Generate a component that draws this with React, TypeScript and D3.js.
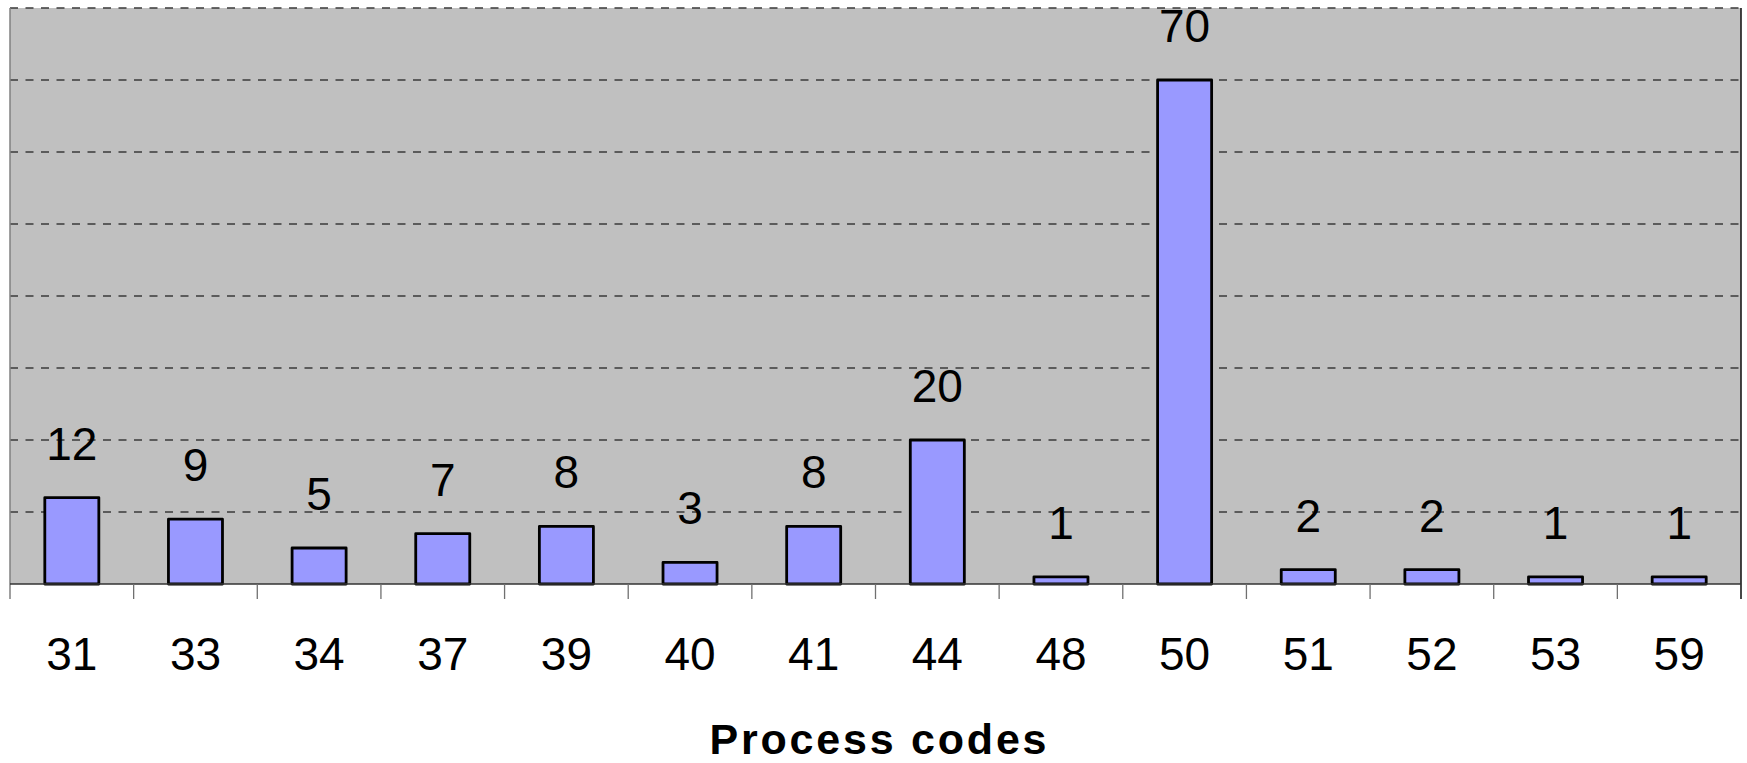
import React from "react";
import * as d3 from "d3";

// Count of records per process code
const categories: string[] = ["31", "33", "34", "37", "39", "40", "41", "44", "48", "50", "51", "52", "53", "59"];
const counts: number[] = [12, 9, 5, 7, 8, 3, 8, 20, 1, 70, 2, 2, 1, 1];
const yTicks: number[] = [0, 10, 20, 30, 40, 50, 60, 70, 80];
const xTitle = "Process codes";

const W = 1747;
const H = 763;
const plot = { left: 10, right: 1741, top: 8, bottom: 584 };
const FONT = "'Liberation Sans', Arial, sans-serif";

export default function App() {
  const x = d3
    .scaleBand<string>()
    .domain(categories)
    .range([plot.left, plot.right])
    .paddingInner(0.563)
    .paddingOuter(0.2815);

  const y = d3.scaleLinear().domain([0, 80]).range([plot.bottom, plot.top]);

  const step = x.step();
  const boundaries = d3.range(categories.length + 1).map((i) => plot.left + i * step);

  return (
    <svg
      width={W}
      height={H}
      viewBox={`0 0 ${W} ${H}`}
      style={{ position: "absolute", left: 0, top: 0, background: "#ffffff" }}
    >
      {/* plot background */}
      <rect
        x={plot.left}
        y={plot.top}
        width={plot.right - plot.left}
        height={plot.bottom - plot.top}
        fill="#c0c0c0"
      />

      {/* dashed gridlines */}
      {yTicks
        .filter((t) => t > 0)
        .map((t) => (
          <line
            key={`g${t}`}
            x1={plot.left}
            x2={plot.right}
            y1={y(t)}
            y2={y(t)}
            stroke="#3a3a3a"
            strokeWidth={1.4}
            strokeDasharray="8 7.5"
          />
        ))}

      {/* plot frame: left and right sides */}
      <line x1={plot.left} x2={plot.left} y1={plot.top} y2={plot.bottom + 15} stroke="#808080" strokeWidth={1.5} />
      <line x1={plot.right} x2={plot.right} y1={plot.top} y2={plot.bottom + 15} stroke="#1a1a1a" strokeWidth={1.6} />

      {/* bars */}
      {categories.map((c, i) => (
        <rect
          key={`b${c}`}
          x={x(c)!}
          y={y(counts[i])}
          width={x.bandwidth()}
          height={y(0) - y(counts[i])}
          fill="#9999ff"
          stroke="#000000"
          strokeWidth={2.8}
          strokeLinejoin="round"
        />
      ))}

      {/* value labels */}
      {categories.map((c, i) => (
        <text
          key={`v${c}`}
          x={x(c)! + x.bandwidth() / 2}
          y={y(counts[i]) - 38}
          textAnchor="middle"
          fontFamily={FONT}
          fontSize={46}
          fill="#000000"
        >
          {counts[i]}
        </text>
      ))}

      {/* category axis */}
      <line x1={plot.left} x2={plot.right} y1={plot.bottom} y2={plot.bottom} stroke="#333333" strokeWidth={1.5} />
      {boundaries.slice(1, -1).map((bx, i) => (
        <line key={`t${i}`} x1={bx} x2={bx} y1={plot.bottom} y2={plot.bottom + 15} stroke="#707070" strokeWidth={1.3} />
      ))}
      {categories.map((c) => (
        <text
          key={`l${c}`}
          x={x(c)! + x.bandwidth() / 2}
          y={670}
          textAnchor="middle"
          fontFamily={FONT}
          fontSize={46}
          fill="#000000"
        >
          {c}
        </text>
      ))}

      {/* axis title */}
      <text
        x={878}
        y={754}
        textAnchor="middle"
        fontFamily={FONT}
        fontSize={43}
        fontWeight="bold"
        fill="#000000"
        textLength={337}
        lengthAdjust="spacing"
      >
        {xTitle}
      </text>
    </svg>
  );
}
